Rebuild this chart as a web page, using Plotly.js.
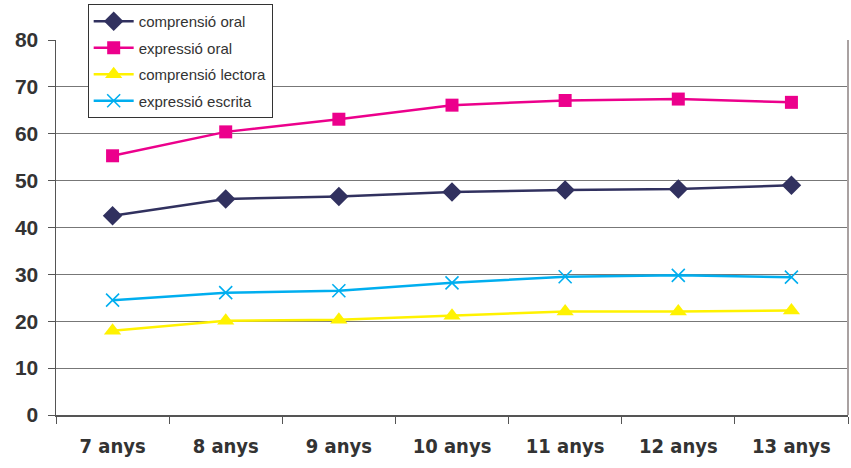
<!DOCTYPE html>
<html>
<head>
<meta charset="utf-8">
<script src="https://cdn.plot.ly/plotly-3.0.1.min.js"></script>
<style>html,body{margin:0;padding:0;background:#fff;}#chart{width:851px;height:468px;}</style>
</head>
<body>
<div id="chart"></div>
<script>
const categories = ["7 anys", "8 anys", "9 anys", "10 anys", "11 anys", "12 anys", "13 anys"];
const comprensioOral = [42.5, 46.1, 46.6, 47.6, 48.0, 48.2, 49.0];
const expressioOral = [55.3, 60.4, 63.1, 66.1, 67.1, 67.4, 66.7];
const comprensioLectora = [18.0, 20.1, 20.3, 21.2, 22.1, 22.1, 22.3];
const expressioEscrita = [24.5, 26.1, 26.5, 28.2, 29.5, 29.8, 29.4];
const seriesNames = ["comprensió oral", "expressió oral", "comprensió lectora", "expressió escrita"];

const traces = [
  {x: categories, y: comprensioOral, name: seriesNames[0], legendgroup: "a", type: "scatter", mode: "lines+markers",
   line: {color: "#31315f", width: 2.5}, marker: {symbol: "diamond", size: 15, color: "#31315f"}},
  {x: categories, y: expressioOral, name: seriesNames[1], legendgroup: "b", type: "scatter", mode: "lines+markers",
   line: {color: "#ec008c", width: 2.5}, marker: {symbol: "square", size: 13, color: "#ec008c"}},
  {x: categories, y: comprensioLectora, name: seriesNames[2], legendgroup: "c", type: "scatter", mode: "lines+markers",
   line: {color: "#fff200", width: 2.5}, marker: {symbol: "triangle-up", size: 15, color: "#fff200"}},
  {x: categories, y: expressioEscrita, name: seriesNames[3], legendgroup: "d", type: "scatter", mode: "lines+markers",
   line: {color: "#00aeef", width: 2.5}, marker: {symbol: "x-thin-open", size: 13, color: "#00aeef", line: {color: "#00aeef", width: 1.6}}}
];

const layout = {
  width: 851, height: 468,
  margin: {l: 56, r: 3, t: 40, b: 53},
  paper_bgcolor: "#ffffff", plot_bgcolor: "#ffffff",
  showlegend: true,
  legend: {
    x: 0.04, xanchor: "left", y: 1.096, yanchor: "top",
    bgcolor: "#ffffff", bordercolor: "#333333", borderwidth: 1,
    font: {family: "Liberation Sans, Arial, sans-serif", size: 15, color: "#333333"},
    traceorder: "grouped", tracegroupgap: 4, itemwidth: 40
  },
  xaxis: {
    type: "category", tickson: "boundaries", ticks: "outside", ticklen: 7, tickcolor: "#555",
    showline: true, linecolor: "#555", linewidth: 1.5, showgrid: false, zeroline: false,
    ticklabelstandoff: 12,
    tickfont: {family: "DejaVu Sans Condensed, Liberation Sans, Arial, sans-serif", size: 20, color: "#333333", weight: "bold"},
    range: [-0.5, 6.5], fixedrange: true
  },
  yaxis: {
    range: [0, 80], dtick: 10, ticks: "outside", ticklen: 7, tickcolor: "#555",
    showline: true, linecolor: "#555", linewidth: 1.5, showgrid: true, gridcolor: "#777777", gridwidth: 1,
    zeroline: false, ticklabelstandoff: 5,
    tickfont: {family: "Liberation Sans, Arial, sans-serif", size: 21, color: "#333333", weight: "bold"},
    fixedrange: true
  },
  shapes: [
    {type: "line", xref: "paper", yref: "paper", x0: 1, x1: 1, y0: 0, y1: 1, line: {color: "#a9a1a1", width: 2}}
  ]
};

Plotly.newPlot("chart", traces, layout, {displayModeBar: false, staticPlot: true});
</script>
</body>
</html>
